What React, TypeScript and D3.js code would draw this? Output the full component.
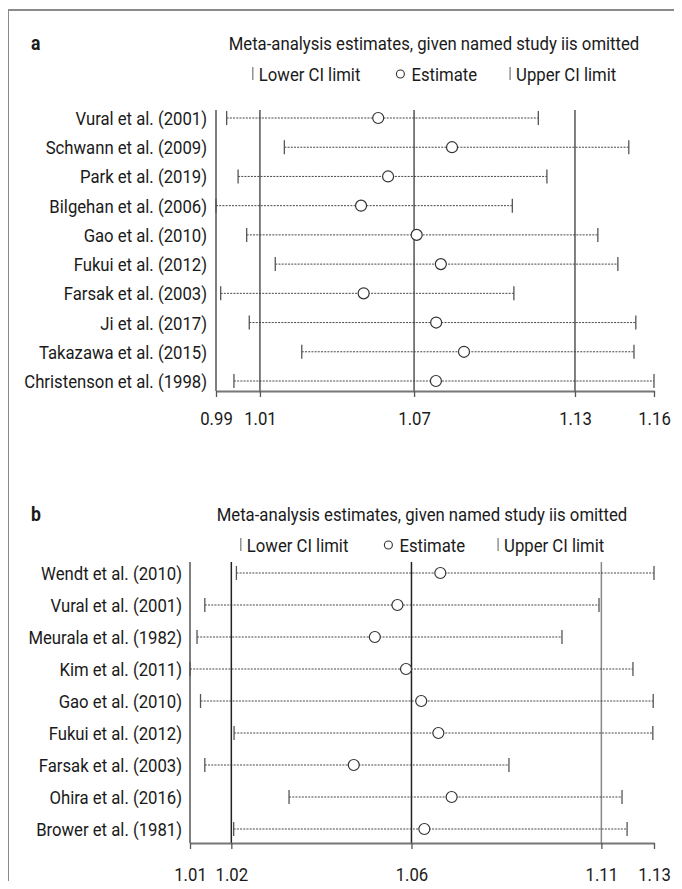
import * as d3 from 'd3';
import React, { useRef, useEffect } from 'react';

// panel a: meta-analysis estimates with one study omitted
const studiesA = [
  'Vural et al. (2001)', 'Schwann et al. (2009)', 'Park et al. (2019)', 'Bilgehan et al. (2006)',
  'Gao et al. (2010)', 'Fukui et al. (2012)', 'Farsak et al. (2003)', 'Ji et al. (2017)',
  'Takazawa et al. (2015)', 'Christenson et al. (1998)',
];
const lowerA = [0.9941, 1.0163, 0.9985, 0.9900, 1.0018, 1.0128, 0.9918, 1.0028, 1.0230, 0.9969];
const estA = [1.0524, 1.0808, 1.0562, 1.0458, 1.0672, 1.0765, 1.0468, 1.0747, 1.0854, 1.0746];
const upperA = [1.1140, 1.1488, 1.1173, 1.1040, 1.1369, 1.1446, 1.1046, 1.1515, 1.1508, 1.1585];
const overallA = [1.0069, 1.0662, 1.1281];

// panel b
const studiesB = [
  'Wendt et al. (2010)', 'Vural et al. (2001)', 'Meurala et al. (1982)', 'Kim et al. (2011)',
  'Gao et al. (2010)', 'Fukui et al. (2012)', 'Farsak et al. (2003)', 'Ohira et al. (2016)',
  'Brower et al. (1981)',
];
const lowerB = [1.0189, 1.0108, 1.0088, 1.0070, 1.0097, 1.0183, 1.0108, 1.0324, 1.0182];
const estB = [1.0712, 1.0602, 1.0544, 1.0624, 1.0663, 1.0707, 1.0490, 1.0741, 1.0671];
const upperB = [1.1260, 1.1119, 1.1024, 1.1206, 1.1258, 1.1257, 1.0888, 1.1178, 1.1191];
const overallB = [1.0176, 1.0638, 1.1125];

const legendItems = ['Lower CI limit', 'Estimate', 'Upper CI limit'];

const FONT = 'Roboto, "Noto Sans", sans-serif';
const SX = 0.88; // squeeze text horizontally to look like a condensed face
const FS = 19;

interface Panel {
  tag: string
  studies: string[]
  lower: number[]
  est: number[]
  upper: number[]
  overall: number[]
  left: number
  right: number
  titleY: number
  titleX: number
  legendY: number
  gridTop: number
  firstRow: number
  lastRow: number
  axisY: number
  tickPad: number
  labelX: number
  gridColors: string[]
}

type Sel = d3.Selection<any, any, any, any>;

const ctext = (sel: Sel, x: number, y: number, s: string, size: number, anchor = 'start') =>
  sel.append('text')
    .attr('transform', `translate(${x},${y}) scale(${SX},1)`)
    .attr('text-anchor', anchor)
    .attr('font-size', size)
    .attr('fill', '#1a1a1a')
    .text(s);

const App: React.FC = () => {
  const ref = useRef<HTMLDivElement>(null);

  useEffect(() => {
    if (!ref.current) return;
    ref.current.innerHTML = '';

    const svg = d3.select(ref.current)
      .append('svg')
      .attr('width', 682)
      .attr('height', 889)
      .style('display', 'block')
      .style('font-family', FONT);

    svg.append('rect').attr('width', 682).attr('height', 889).attr('fill', '#fff');

    // outer frame (only left and top edges show)
    svg.append('path')
      .attr('d', 'M8,900 L8,10 L700,10')
      .attr('fill', 'none')
      .attr('stroke', '#8a8a8a')
      .attr('stroke-width', 2);

    const panels: Panel[] = [
      {
        tag: 'a', studies: studiesA, lower: lowerA, est: estA, upper: upperA, overall: overallA,
        left: 216, right: 654, titleY: 43, titleX: 434, legendY: 74,
        gridTop: 110, firstRow: 118, lastRow: 381, axisY: 391, tickPad: 15, labelX: 207,
        gridColors: ['#555', '#555', '#555'],
      },
      {
        tag: 'b', studies: studiesB, lower: lowerB, est: estB, upper: upperB, overall: overallB,
        left: 190, right: 654, titleY: 514, titleX: 422, legendY: 545,
        gridTop: 562, firstRow: 573, lastRow: 829, axisY: 843, tickPad: 19, labelX: 182,
        gridColors: ['#222', '#222', '#888'],
      },
    ];

    panels.forEach(p => {
      const g = svg.append('g');
      const lo = d3.min(p.lower) as number;
      const hi = d3.max(p.upper) as number;
      const x = d3.scaleLinear().domain([lo, hi]).range([p.left, p.right]);
      const y = d3.scalePoint<string>().domain(p.studies).range([p.firstRow, p.lastRow]);

      ctext(g, 31, p.titleY + 7, p.tag, FS + 1).attr('font-weight', 'bold');
      ctext(g, p.titleX, p.titleY + 7, 'Meta-analysis estimates, given named study iis omitted', FS, 'middle');

      // legend: lay out items from their measured widths, centred under the title
      const lg = g.append('g');
      const texts = legendItems.map(s => ctext(lg, 0, 7, s, FS));
      const widths = texts.map(t => (t.node() as SVGTextElement).getComputedTextLength() * SX);
      const lead = [7, 15, 7];
      const gaps = [36, 32];
      const total = d3.sum(widths) + d3.sum(lead) + d3.sum(gaps);
      let cx = p.titleX - total / 2;
      legendItems.forEach((_s, i) => {
        if (i === 1) {
          lg.append('circle').attr('cx', cx + 4).attr('cy', p.legendY).attr('r', 4)
            .attr('fill', 'none').attr('stroke', '#333').attr('stroke-width', 1.1);
        } else {
          lg.append('line').attr('x1', cx + 1).attr('x2', cx + 1)
            .attr('y1', p.legendY - 7).attr('y2', p.legendY + 6)
            .attr('stroke', '#777').attr('stroke-width', 1.2);
        }
        cx += lead[i];
        texts[i].attr('transform', `translate(${cx},${p.legendY + 7}) scale(${SX},1)`);
        cx += widths[i] + (gaps[i] || 0);
      });

      // left axis line
      g.append('line')
        .attr('x1', p.left).attr('x2', p.left)
        .attr('y1', p.gridTop).attr('y2', p.axisY)
        .attr('stroke', '#555').attr('stroke-width', 1.5);

      // reference lines at the overall CI and estimate
      g.selectAll('.ref')
        .data(p.overall)
        .enter()
        .append('line')
        .attr('x1', d => x(d)).attr('x2', d => x(d))
        .attr('y1', p.gridTop).attr('y2', p.axisY)
        .attr('stroke', (_d, i) => p.gridColors[i]).attr('stroke-width', 1.5);

      const rows = g.selectAll('.row')
        .data(p.studies)
        .enter()
        .append('g')
        .attr('transform', d => `translate(0,${y(d)})`);

      rows.append('text')
        .attr('transform', `translate(${p.labelX},7) scale(${SX},1)`)
        .attr('text-anchor', 'end').attr('font-size', FS).attr('fill', '#1a1a1a')
        .text(d => d);

      rows.append('line')
        .attr('x1', (_d, i) => x(p.lower[i])).attr('x2', (_d, i) => x(p.upper[i]))
        .attr('y1', 0).attr('y2', 0)
        .attr('stroke', '#333').attr('stroke-width', 0.9).attr('stroke-dasharray', '2,1.2');

      rows.append('line')
        .attr('x1', (_d, i) => x(p.lower[i])).attr('x2', (_d, i) => x(p.lower[i]))
        .attr('y1', -7).attr('y2', 7)
        .attr('stroke', '#555').attr('stroke-width', 1.3);

      rows.append('line')
        .attr('x1', (_d, i) => x(p.upper[i])).attr('x2', (_d, i) => x(p.upper[i]))
        .attr('y1', -7).attr('y2', 7)
        .attr('stroke', '#555').attr('stroke-width', 1.3);

      rows.append('circle')
        .attr('cx', (_d, i) => x(p.est[i])).attr('cy', 0).attr('r', 5.5)
        .attr('fill', '#fff').attr('stroke', '#333').attr('stroke-width', 1.2);

      // bottom axis
      const axis = d3.axisBottom(x)
        .tickValues([lo, ...p.overall, hi])
        .tickFormat(d3.format('.2f'))
        .tickSizeInner(6)
        .tickSizeOuter(0)
        .tickPadding(p.tickPad);

      const ax = g.append('g')
        .attr('transform', `translate(0,${p.axisY})`)
        .call(axis);
      ax.select('.domain').attr('stroke', '#777').attr('stroke-width', 2);
      ax.selectAll('.tick line').attr('stroke', '#555').attr('stroke-width', 1.3);
      ax.selectAll('.tick text')
        .attr('transform', `scale(${SX},1)`)
        .attr('font-size', FS).attr('fill', '#1a1a1a').attr('font-family', FONT);
    });
  }, []);

  return <div ref={ref} style={{ margin: -8 }} />;
};

export default App;
